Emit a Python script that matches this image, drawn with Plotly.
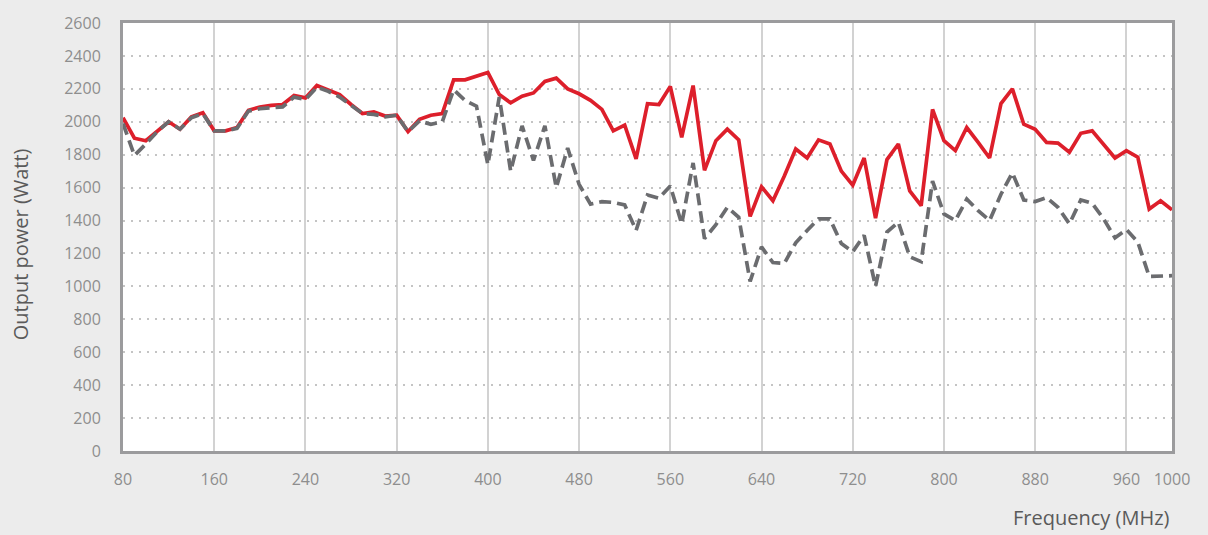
import plotly.graph_objects as go

freq_mhz = list(range(80, 1001, 10))

output_red = [
    2025, 1900, 1885, 1940, 2000, 1955, 2030, 2055, 1945, 1945,
    1965, 2070, 2090, 2100, 2105, 2160, 2145, 2220, 2195, 2165,
    2105, 2050, 2060, 2035, 2040, 1940, 2015, 2040, 2050, 2255,
    2255, 2275, 2300, 2165, 2115, 2155, 2175, 2245, 2265, 2200,
    2170, 2130, 2075, 1945, 1980, 1775, 2110, 2105, 2215, 1905,
    2220, 1705, 1885, 1955, 1890, 1425, 1605, 1520, 1670, 1835,
    1780, 1890, 1865, 1700, 1615, 1780, 1415, 1770, 1865, 1580,
    1490, 2075, 1885, 1825, 1965, 1875, 1780, 2110, 2200, 1985,
    1955, 1875, 1870, 1815, 1930, 1945, 1865, 1780, 1825, 1785,
    1470, 1520, 1465,
]

output_gray = [
    1990, 1795, 1865, 1940, 2000, 1955, 2025, 2050, 1945, 1945,
    1960, 2065, 2080, 2085, 2090, 2150, 2135, 2210, 2185, 2150,
    2100, 2050, 2045, 2030, 2040, 1940, 2005, 1985, 2000, 2195,
    2130, 2095, 1740, 2150, 1700, 1975, 1765, 1975, 1600, 1840,
    1620, 1500, 1515, 1510, 1495, 1340, 1555, 1535, 1610, 1380,
    1750, 1290, 1375, 1480, 1420, 1030, 1240, 1145, 1140, 1265,
    1340, 1410, 1410, 1260, 1210, 1310, 1000, 1330, 1390, 1180,
    1150, 1640, 1440, 1400, 1530, 1460, 1400, 1560, 1690, 1525,
    1515, 1540, 1480, 1380, 1525, 1505, 1410, 1295, 1345, 1270,
    1060, 1060, 1065,
]

x_ticks = [80, 160, 240, 320, 400, 480, 560, 640, 720, 800, 880, 960, 1000]
y_ticks = list(range(0, 2601, 200))

x_title = "Frequency (MHz)"
y_title = "Output power (Watt)"

FONT = "Open Sans"
TICK_COLOR = "#8e8e8e"
TITLE_COLOR = "#5a5a5a"

fig = go.Figure()
fig.add_trace(go.Scatter(
    x=freq_mhz, y=output_red, mode="lines",
    line=dict(color="#dd1f2b", width=3.7),
    showlegend=False, hoverinfo="skip",
))
fig.add_trace(go.Scatter(
    x=freq_mhz, y=output_gray, mode="lines",
    line=dict(color="#6b6c6f", width=3.7, dash="12px,6px"),
    showlegend=False, hoverinfo="skip",
))

fig.update_layout(
    width=1208, height=535,
    margin=dict(l=123, r=36, t=20, b=84),
    paper_bgcolor="#ececec",
    plot_bgcolor="#ffffff",
    font=dict(family=FONT, color=TICK_COLOR, size=16),
    xaxis=dict(
        range=[80, 1000], tickvals=x_ticks, ticktext=[str(v) for v in x_ticks],
        showgrid=True, gridcolor="#d2d2d2", gridwidth=1.5,
        showline=True, linecolor="#9b9b9d", linewidth=3, mirror=True,
        ticks="", ticklabelstandoff=12, zeroline=False,
        tickfont=dict(family=FONT, size=16, color=TICK_COLOR),
    ),
    yaxis=dict(
        range=[0, 2600], tickvals=y_ticks,
        showgrid=True, gridcolor="#c4c4c4", gridwidth=2.2, griddash="2px,6px",
        showline=True, linecolor="#9b9b9d", linewidth=3, mirror=True,
        ticks="", ticklabelstandoff=16, zeroline=False,
        tickfont=dict(family=FONT, size=16, color=TICK_COLOR),
    ),
    annotations=[
        dict(text=x_title, xref="paper", yref="paper", x=1.0, y=-0.156,
             xanchor="right", yanchor="middle", showarrow=False,
             font=dict(family=FONT, size=20, color=TITLE_COLOR)),
        dict(text=y_title, xref="paper", yref="paper", x=-0.0982, y=0.483,
             xanchor="center", yanchor="middle", textangle=-90, showarrow=False,
             font=dict(family=FONT, size=20, color=TITLE_COLOR)),
    ],
)

fig.write_html(
    "out.html",
    config={"displayModeBar": False},
    post_script="document.body.style.margin='0';document.body.style.overflow='hidden';",
)
